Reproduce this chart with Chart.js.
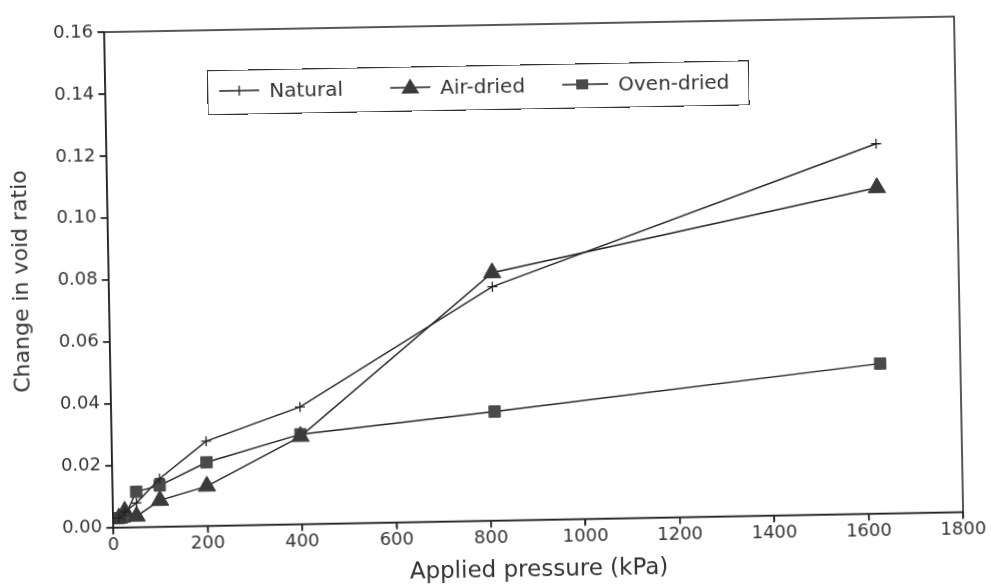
<!DOCTYPE html>
<html>
<head>
<meta charset="utf-8">
<script src="https://cdn.jsdelivr.net/npm/chart.js@4.4.0/dist/chart.umd.min.js"></script>
<style>
html, body { margin: 0; padding: 0; background: #fff; overflow: hidden; }
#wrap { position: relative; width: 991px; height: 585px; transform: rotate(-1.05deg); transform-origin: 50% 50%; }
#legend { position: absolute; left: 211px; top: 65px; width: 540px; height: 43px; border: 1.5px solid #333;
  font-family: "DejaVu Sans"; font-size: 20px; color: #333; }
#legend .item { position: absolute; top: 0; height: 40px; display: flex; align-items: center; white-space: nowrap; }
#legend svg { margin-right: 10px; }
</style>
</head>
<body>
<div id="wrap">
  <canvas id="myChart" width="991" height="585"></canvas>
  <div id="legend"></div>
</div>
<script>
// pressures (kPa) and change in void ratio
var pressure = [12.5, 25, 50, 100, 200, 400, 812, 1630];
var natural = [0.003, 0.005, 0.0078, 0.0155, 0.0273, 0.0378, 0.0755, 0.1194];
var airDried = [0.003, 0.0052, 0.0035, 0.0085, 0.0128, 0.0283, 0.0800, 0.1052];
var ovenDried = [0.003, 0.0035, 0.0114, 0.0133, 0.0205, 0.0290, 0.0352, 0.0484];
var seriesNames = ['Natural', 'Air-dried', 'Oven-dried'];
var xTicks = [0, 200, 400, 600, 800, 1000, 1200, 1400, 1600, 1800];
var yTicks = [0, 0.02, 0.04, 0.06, 0.08, 0.10, 0.12, 0.14, 0.16];

function points(values) {
    return pressure.map(function (p, i) { return {x: p, y: values[i]}; });
}

Chart.defaults.font.family = '"DejaVu Sans", sans-serif';
Chart.defaults.color = '#333';

// box round the plot and outward tick marks on the two axes
var framePlugin = {
    id: 'frame',
    afterDraw: function (chart) {
        var a = chart.chartArea, ctx = chart.ctx;
        var sx = chart.scales.x, sy = chart.scales.y;
        ctx.save();
        ctx.strokeStyle = '#222';
        ctx.lineWidth = 1.5;
        ctx.strokeRect(a.left, a.top, a.right - a.left, a.bottom - a.top);
        ctx.beginPath();
        xTicks.forEach(function (v) {
            var px = sx.getPixelForValue(v);
            ctx.moveTo(px, a.bottom);
            ctx.lineTo(px, a.bottom + 6);
        });
        yTicks.forEach(function (v) {
            var py = sy.getPixelForValue(v);
            ctx.moveTo(a.left, py);
            ctx.lineTo(a.left - 6, py);
        });
        ctx.stroke();
        ctx.restore();
    }
};

var gridOpts = {drawOnChartArea: false, drawTicks: true, color: '#222', lineWidth: 1.5,
    tickColor: '#222', tickWidth: 1.5, tickLength: 7};

var ctx = document.getElementById('myChart').getContext('2d');
var chart = new Chart(ctx, {
    type: 'scatter',
    data: {
        datasets: [{
            label: seriesNames[0],
            data: points(natural),
            showLine: true,
            borderColor: '#222',
            borderWidth: 1.4,
            pointStyle: 'cross',
            pointRadius: 5,
            pointBorderColor: '#222',
            pointBorderWidth: 1.3
        }, {
            label: seriesNames[1],
            data: points(airDried),
            showLine: true,
            borderColor: '#222',
            borderWidth: 1.4,
            pointStyle: 'triangle',
            pointRadius: 10,
            pointBackgroundColor: '#3a3a3a',
            pointBorderColor: '#3a3a3a',
            pointBorderWidth: 1
        }, {
            label: seriesNames[2],
            data: points(ovenDried),
            showLine: true,
            borderColor: '#222',
            borderWidth: 1.4,
            pointStyle: 'rect',
            pointRadius: 8,
            pointBackgroundColor: '#4a4a4a',
            pointBorderColor: '#4a4a4a',
            pointBorderWidth: 1
        }]
    },
    options: {
        responsive: false,
        animation: false,
        layout: {padding: {left: 0, top: 25, right: 32, bottom: 0}},
        plugins: {legend: {display: false}, tooltip: {enabled: false}},
        scales: {
            x: {
                type: 'linear',
                position: 'bottom',
                min: 0,
                max: 1800,
                afterBuildTicks: function (s) { s.ticks = xTicks.map(function (v) { return {value: v}; }); },
                afterFit: function (s) { s.height = 64.5; },
                grid: gridOpts,
                border: {color: '#222', width: 1.5},
                ticks: {font: {size: 18}, padding: 0, maxRotation: 0, autoSkip: false,
                    callback: function (v) { return String(v); }},
                title: {display: true, text: 'Applied pressure (kPa)', font: {size: 23}, padding: {top: 0, bottom: 0}}
            },
            y: {
                min: 0,
                max: 0.16,
                afterBuildTicks: function (s) { s.ticks = yTicks.map(function (v) { return {value: v}; }); },
                afterFit: function (s) { s.width = 109; },
                grid: gridOpts,
                border: {color: '#222', width: 1.5},
                ticks: {font: {size: 18}, padding: 4, callback: function (v) { return v.toFixed(2); }},
                title: {display: true, text: 'Change in void ratio', font: {size: 22}, padding: {top: 9, bottom: 0}}
            }
        }
    },
    plugins: [framePlugin]
});

// legend drawn as html, markers as small svg samples
var markers = [
    '<line x1="20" y1="5" x2="20" y2="15" stroke="#222" stroke-width="1.3"/>',
    '<polygon points="20,1 29,16 11,16" fill="#3a3a3a"/>',
    '<rect x="14" y="5" width="12" height="10" fill="#4a4a4a"/>'
];
var itemLeft = [11, 182, 354];
var legend = document.getElementById('legend');
seriesNames.forEach(function (name, i) {
    var item = document.createElement('div');
    item.className = 'item';
    item.style.left = itemLeft[i] + 'px';
    item.innerHTML = '<svg width="' + (i === 2 ? 46 : 40) + '" height="20"><line x1="0" y1="10" x2="' + (i === 2 ? 46 : 40) +
        '" y2="10" stroke="#222" stroke-width="1.4"/>' + markers[i] + '</svg><span>' + name + '</span>';
    legend.appendChild(item);
});
</script>
</body>
</html>
